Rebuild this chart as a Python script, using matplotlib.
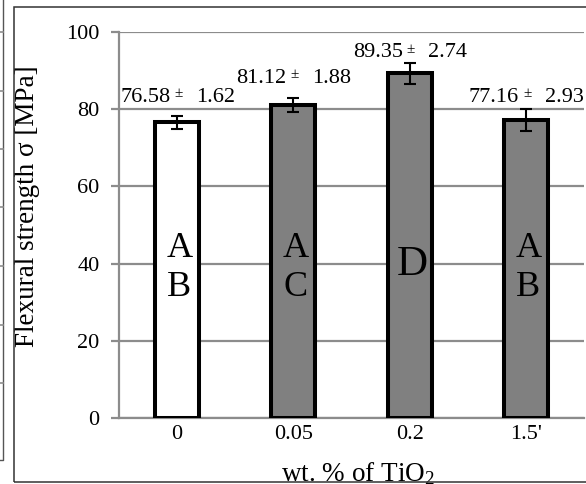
import numpy as np
import matplotlib.pyplot as plt
from matplotlib.patches import Rectangle
from matplotlib.lines import Line2D

plt.rcParams['font.family'] = ['Liberation Serif', 'DejaVu Serif']
plt.rcParams['mathtext.fontset'] = 'custom'
plt.rcParams['mathtext.rm'] = 'Liberation Serif'
plt.rcParams['mathtext.it'] = 'Liberation Serif'

# data
categories = ["0", "0.05", "0.2", "1.5'"]
strength = [76.58, 81.12, 89.35, 77.16]
std_dev = [1.62, 1.88, 2.74, 2.93]
groups = ["A\nB", "A\nC", "D", "A\nB"]

fills = ["white", "#808080", "#808080", "#808080"]
label_pad = [4.9, 5.0, 2.6, 3.0]   # extra space above each error bar
grey = "#8c8c8c"

W, H = 586, 484
fig = plt.figure(figsize=(W / 100, H / 100), dpi=100)
ax = fig.add_axes([119 / W, 1 - 418 / H, (584 - 119) / W, (418 - 32) / H])

x = np.arange(len(categories))
ax.bar(x, strength, width=0.38, color=fills, edgecolor="black",
       linewidth=2.9, zorder=3)
ax.errorbar(x, strength, yerr=std_dev, fmt="none", ecolor="black",
            elinewidth=1.5, capsize=4.5, capthick=1.5, zorder=4)

# mean +/- sd labels, built from three pieces (small raised ±)
for i in range(len(x)):
    pos = (x[i], strength[i] + std_dev[i] + label_pad[i])
    ax.annotate(f"{strength[i]:.2f}", pos, xytext=(-5, 0),
                textcoords="offset points", ha="right", va="center",
                fontsize=16, zorder=5)
    ax.annotate("±", pos, xytext=(1, 2.5), textcoords="offset points",
                ha="center", va="center", fontsize=11, zorder=5)
    ax.annotate(f"{std_dev[i]:.2f}", pos, xytext=(13.5, 0),
                textcoords="offset points", ha="left", va="center",
                fontsize=16, zorder=5)

# significance letters inside bars
for i, g in enumerate(groups):
    if "\n" in g:
        ax.text(x[i] + 0.02, 38.8, g, ha="center", va="center",
                fontsize=26, linespacing=1.25, zorder=5)
    else:
        ax.text(x[i] + 0.02, 39.6, g, ha="center", va="center",
                fontsize=31, zorder=5)

ax.set_xlim(-0.5, len(x) - 0.5)
ax.set_ylim(0, 100)
ax.set_yticks(np.arange(0, 101, 20))
ax.set_xticks(x)
ax.set_xticklabels(categories)
ax.set_axisbelow(True)
ax.yaxis.grid(True, color=grey, linewidth=1.6)

for s in ["top", "right"]:
    ax.spines[s].set_visible(False)
for s in ["left", "bottom"]:
    ax.spines[s].set_color(grey)
    ax.spines[s].set_linewidth(1.6)

ax.tick_params(axis="y", length=5.5, width=1.6, color=grey, pad=8.5,
               labelsize=16)
ax.tick_params(axis="x", length=0, pad=5, labelsize=16)

fig.text(28 / W, 1 - 206 / H, "Flexural strength σ [MPa]", rotation=90,
         ha="center", va="center", fontsize=19.5)
fig.text(358 / W, 1 - 481 / H, "wt. % of TiO$_2$", ha="center",
         va="baseline", fontsize=19.5)

# frame around the chart
frame = Rectangle((14 / W, 1 - 482 / H), (600 - 14) / W, (482 - 7) / H,
                  fill=False, edgecolor="#333333", linewidth=1.1,
                  transform=fig.transFigure, zorder=10)
fig.patches.append(frame)

# edge of the neighbouring chart on the left
fig.lines.append(Line2D([2.5 / W, 2.5 / W, 0], [1, 1 - 460 / H, 1 - 460 / H],
                        color="#555555", linewidth=1.0,
                        transform=fig.transFigure))
for k in range(7):
    yy = 1 - (32 + 58.5 * k) / H
    fig.lines.append(Line2D([0, 2.5 / W], [yy, yy], color=grey,
                            linewidth=1.2, transform=fig.transFigure))

fig.savefig("out.png", dpi=100)
